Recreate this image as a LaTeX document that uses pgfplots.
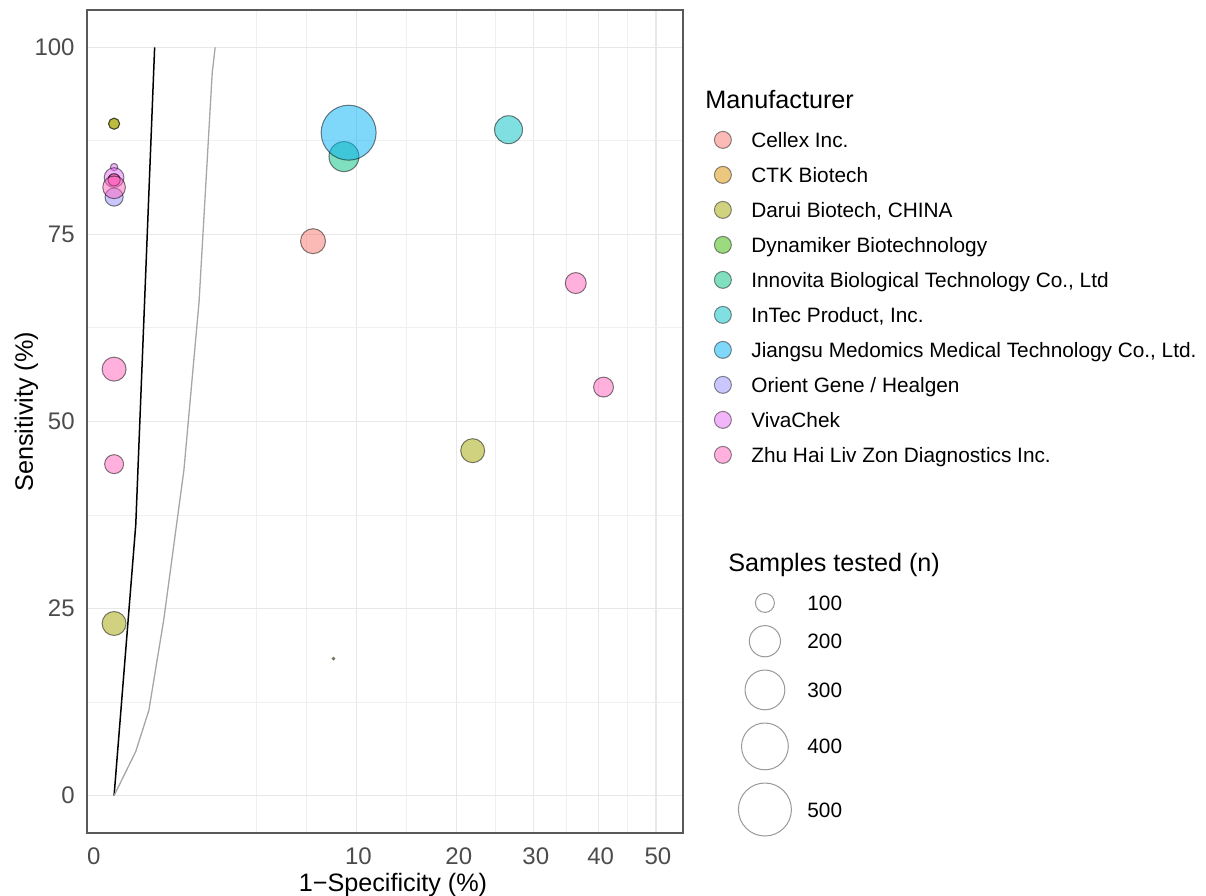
\documentclass[border=0pt]{standalone}
\usepackage{fontspec}
\setmainfont{Liberation Sans}
\usepackage{pgfplots}
\pgfplotsset{compat=1.18}

% ggplot hue palette, 10 levels
\definecolor{cA}{HTML}{F8766D}
\definecolor{cB}{HTML}{D89000}
\definecolor{cC}{HTML}{A3A500}
\definecolor{cD}{HTML}{39B600}
\definecolor{cE}{HTML}{00BF7D}
\definecolor{cF}{HTML}{00BFC4}
\definecolor{cG}{HTML}{00B0F6}
\definecolor{cH}{HTML}{9590FF}
\definecolor{cI}{HTML}{E76BF3}
\definecolor{cJ}{HTML}{FF62BC}

\pgfplotsset{
    bubble/.style={
        only marks, mark=*, scatter, forget plot, line width=0.5bp,
        scatter/use mapped color={draw=black, draw opacity=0.5, fill=#1, fill opacity=0.5},
        visualization depends on={sqrt(max(6.12*\thisrow{n}-251,1))/4 \as \rad},
        scatter/@pre marker code/.append style={/tikz/mark size=\rad bp},
    },
    legkey/.style={only marks, mark=*, mark size=4.25bp, line width=0.5bp,
        draw=black, draw opacity=0.45, fill=#1, fill opacity=0.5},
    sizekey/.style={only marks, mark=o, mark size=#1bp, line width=0.5bp, draw=black!40},
    legbox/.style={draw=none, fill=none, inner sep=0pt,
        nodes={inner sep=0pt, text height=7.5bp, text depth=0pt,
            font=\fontsize{10.4bp}{12bp}\selectfont}},
}

\begin{document}
\begin{tikzpicture}
    \begin{axis}[
            at={(43.5bp,31.5bp)}, anchor=south west,
            scale only axis, width=298bp, height=411.5bp,
            %
            xmin=-0.3536, xmax=7.4246,
            ymin=-5, ymax=105,
            %
            xtick={3.1623,4.4721,5.4772,6.3246,7.0711},
            xticklabels={10,20,30,40,50},
            extra x ticks={-0.29}, extra x tick labels={0},
            extra x tick style={grid=none},
            minor xtick={1.852,2.507,3.817,4.975,5.901,6.698},
            ytick={0,25,50,75,100},
            minor ytick={12.5,37.5,62.5,87.5},
            grid=both,
            major grid style={draw=black!9, line width=0.7bp},
            minor grid style={draw=black!6, line width=0.5bp},
            major tick length=0pt, minor tick length=0pt,
            axis line style={draw=black!65, line width=0.6bp},
            /pgf/number format/assume math mode=true,
            tick label style={font=\fontsize{12bp}{14bp}\selectfont, text=black!70, inner sep=0pt},
            xticklabel style={anchor=north, yshift=-7bp, xshift=1bp},
            yticklabel style={anchor=east, xshift=-6bp},
            %
            xlabel={1−Specificity (\%)},
            ylabel={Sensitivity (\%)},
            label style={font=\fontsize{12.6bp}{14bp}\selectfont},
            xlabel style={at={([xshift=4bp,yshift=-29bp]axis description cs:0.5,0)}, anchor=base},
            ylabel style={at={([xshift=-27bp]axis description cs:0,0.512)}, anchor=base},
            %
            legend style={legbox, at={(axis description cs:1.052,0.853)}, anchor=north west,
                row sep=9bp, column sep=10bp},
            legend cell align=left,
            legend image code/.code={\draw[#1] plot coordinates {(0bp,0bp)};},
        ]

        % reference curves
        \addplot[black, line width=0.75bp, forget plot]
            table[x expr=sqrt(\thisrow{fpr}), y=sens] {
            fpr sens
            0 0
            0.08 36.2
            0.28 100
        };
        \addplot[black!35, line width=0.65bp, forget plot]
            table[x expr=sqrt(\thisrow{fpr}), y=sens] {
            fpr sens
            0 0
            0.080 5.9
            0.206 11.4
            0.42 23.5
            0.83 43.5
            1.23 66
            1.64 96.6
            1.74 100
        };

        % bubbles: fpr (%), sensitivity (%), n samples
        \addplot[bubble=cA] table[x expr=sqrt(\thisrow{fpr}), y=sens] {
            fpr sens n
            6.74 74.1 143
        };
        \addplot[bubble=cB] table[x expr=sqrt(\thisrow{fpr}), y=sens] {
            fpr sens n
            8.2 18.3 42
        };
        \addplot[bubble=cC] table[x expr=sqrt(\thisrow{fpr}), y=sens] {
            fpr sens n
            0 89.8 61
            0 89.8 61
            21.9 46.1 135
            0 23.0 135
        };
        \addplot[bubble=cE] table[x expr=sqrt(\thisrow{fpr}), y=sens] {
            fpr sens n
            9.0 85.4 188
        };
        \addplot[bubble=cF] table[x expr=sqrt(\thisrow{fpr}), y=sens] {
            fpr sens n
            26.5 89.0 169
        };
        \addplot[bubble=cG] table[x expr=sqrt(\thisrow{fpr}), y=sens] {
            fpr sens n
            9.37 88.6 535
        };
        \addplot[bubble=cH] table[x expr=sqrt(\thisrow{fpr}), y=sens] {
            fpr sens n
            0 80.0 95
        };
        \addplot[bubble=cI] table[x expr=sqrt(\thisrow{fpr}), y=sens] {
            fpr sens n
            0 84.0 50
            0 82.6 105
        };
        \addplot[bubble=cJ] table[x expr=sqrt(\thisrow{fpr}), y=sens] {
            fpr sens n
            0 82.3 65
            0 82.3 65
            0 81.3 125
            0 57.0 135
            0 44.3 100
            36.3 68.5 113
            40.8 54.6 106
        };

        \addlegendimage{legkey=cA}\addlegendentry{Cellex Inc.}
        \addlegendimage{legkey=cB}\addlegendentry{CTK Biotech}
        \addlegendimage{legkey=cC}\addlegendentry{Darui Biotech, CHINA}
        \addlegendimage{legkey=cD}\addlegendentry{Dynamiker Biotechnology}
        \addlegendimage{legkey=cE}\addlegendentry{Innovita Biological Technology Co., Ltd}
        \addlegendimage{legkey=cF}\addlegendentry{InTec Product, Inc.}
        \addlegendimage{legkey=cG}\addlegendentry{Jiangsu Medomics Medical Technology Co., Ltd.}
        \addlegendimage{legkey=cH}\addlegendentry{Orient Gene / Healgen}
        \addlegendimage{legkey=cI}\addlegendentry{VivaChek}
        \addlegendimage{legkey=cJ}\addlegendentry{Zhu Hai Liv Zon Diagnostics Inc.}
    \end{axis}

    % second, hidden axis only for the size legend
    \begin{axis}[
            at={(43.5bp,31.5bp)}, anchor=south west,
            scale only axis, width=298bp, height=411.5bp,
            hide axis, xmin=0, xmax=1, ymin=0, ymax=1,
            legend style={legbox, at={(axis description cs:1.0923,0.2916)}, anchor=north west,
                row sep=6.6bp, column sep=8bp},
            legend cell align=left,
            legend image code/.code={\draw[#1] plot coordinates {(0bp,0bp)};},
        ]
        \addlegendimage{sizekey=4.75}\addlegendentry{100}
        \addlegendimage{sizekey=7.8}\addlegendentry{200}
        \addlegendimage{sizekey=9.95}\addlegendentry{300}
        \addlegendimage{sizekey=11.7}\addlegendentry{400}
        \addlegendimage{sizekey=13.25}\addlegendentry{500}
    \end{axis}

    \node[anchor=base west, inner sep=0pt, font=\fontsize{12.6bp}{14bp}\selectfont]
        at (352.5bp,393.5bp) {Manufacturer};
    \node[anchor=base west, inner sep=0pt, font=\fontsize{12.6bp}{14bp}\selectfont]
        at (364bp,162bp) {Samples tested (n)};

    \pgfresetboundingbox
    \path (0,0) rectangle (603bp,448bp);
\end{tikzpicture}
\end{document}
